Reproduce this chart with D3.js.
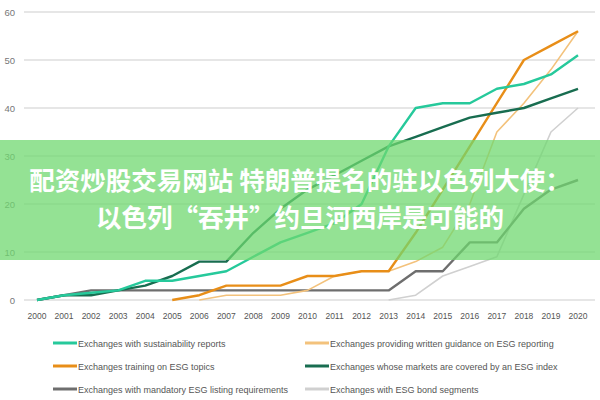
<!DOCTYPE html>
<html><head><meta charset="utf-8">
<script src="https://cdn.jsdelivr.net/npm/d3@7"></script>
<style>html,body{margin:0;padding:0;background:#fff;}svg{display:block;}</style>
</head><body>
<script>
const years = d3.range(2000, 2021);
const yTicks = [0, 10, 20, 30, 40, 50, 60];
const sustainability = [0,1,1.5,2,4,4,5,6,9,12,14,16,20,32,40,41,41,44,45,47,51];
const training = [null,null,null,null,null,0,1,3,3,3,5,5,6,6,14,23,32,41,50,53,56];
const mandatory = [0,1,2,2,2,2,2,2,2,2,2,2,2,2,6,6,12,12,19,23,25];
const guidance = [null,null,null,null,null,null,0,1,1,1,2,5,6,6,8,11,20,35,41,48,56];
const indexCov = [0,1,1,2,3,5,8,8,14,19,23,26,29,32,34,36,38,39,40,42,44];
const bonds = [null,null,null,null,null,null,null,null,null,null,null,null,null,0,1,5,7,9,22,35,40];
const seriesNames = ["Exchanges with sustainability reports","Exchanges training on ESG topics","Exchanges with mandatory ESG listing requirements","Exchanges providing written guidance on ESG reporting","Exchanges whose markets are covered by an ESG index","Exchanges with ESG bond segments"];
const titleLines = ["配资炒股交易网站 特朗普提名的驻以色列大使：","以色列“吞井”约旦河西岸是可能的"];

const series = [
  {name: seriesNames[0], values: sustainability, color: "#26c99b", w: 2.4},
  {name: seriesNames[1], values: training, color: "#e88e18", w: 2.4},
  {name: seriesNames[2], values: mandatory, color: "#6e6e6e", w: 2.4},
  {name: seriesNames[3], values: guidance, color: "#f3c27c", w: 1.6},
  {name: seriesNames[4], values: indexCov, color: "#186d50", w: 2.4},
  {name: seriesNames[5], values: bonds, color: "#d0d0d0", w: 1.6}
];
const drawOrder = [5, 2, 3, 1, 4, 0];

const svg = d3.select("body").append("svg").attr("width", 600).attr("height", 400);
const x = d3.scaleLinear().domain([2000, 2020]).range([37, 578]);
const y = d3.scaleLinear().domain([0, 60]).range([300, 12]);

// grid
svg.append("g").selectAll("line").data(yTicks).join("line")
  .attr("x1", 24).attr("x2", 595)
  .attr("y1", d => y(d)).attr("y2", d => y(d))
  .attr("stroke", "#dedede").attr("stroke-width", 1.5);

// y labels
svg.append("g").selectAll("text").data(yTicks).join("text")
  .attr("x", 15).attr("y", d => y(d) + 3.5).attr("text-anchor", "end")
  .attr("font-family", "Liberation Sans, Arial, sans-serif").attr("font-size", 9.5)
  .attr("fill", "#777").text(d => d);

// x labels
svg.append("g").selectAll("text").data(years).join("text")
  .attr("x", d => x(d)).attr("y", 319).attr("text-anchor", "middle")
  .attr("font-family", "Liberation Sans, Arial, sans-serif").attr("font-size", 8.5)
  .attr("fill", "#555").text(d => d);

const line = d3.line().defined(d => d.v !== null).x(d => x(d.yr)).y(d => y(d.v));
svg.append("g").selectAll("path").data(drawOrder.map(i => series[i])).join("path")
  .attr("d", s => line(s.values.map((v, i) => ({yr: years[i], v}))))
  .attr("fill", "none").attr("stroke", s => s.color).attr("stroke-width", s => s.w)
  .attr("stroke-linejoin", "round");

// legend
const legPos = [[53, 343], [53, 366], [53, 389], [305, 343], [305, 366], [305, 389]];
const lg = svg.append("g").selectAll("g").data(series).join("g")
  .attr("transform", (s, i) => `translate(${legPos[i][0]},${legPos[i][1]})`);
lg.append("line").attr("x1", 0).attr("x2", 24).attr("y1", 0).attr("y2", 0)
  .attr("stroke", s => s.color).attr("stroke-width", 3);
lg.append("text").attr("x", 25).attr("y", 3.5)
  .attr("font-family", "Liberation Sans, Arial, sans-serif").attr("font-size", 9)
  .attr("fill", "#555").text(s => s.name);

// overlay band
svg.append("rect").attr("x", 0).attr("y", 140).attr("width", 600).attr("height", 120)
  .attr("fill", "rgb(110,216,110)").attr("fill-opacity", 0.74);
svg.append("g").selectAll("text").data(titleLines).join("text")
  .attr("x", 300).attr("y", (d, i) => 190 + i * 37).attr("text-anchor", "middle")
  .attr("font-family", "Noto Sans CJK SC, sans-serif").attr("font-weight", "bold")
  .attr("font-size", 25.5).attr("fill", "#fff").text(d => d);
</script>
</body></html>
